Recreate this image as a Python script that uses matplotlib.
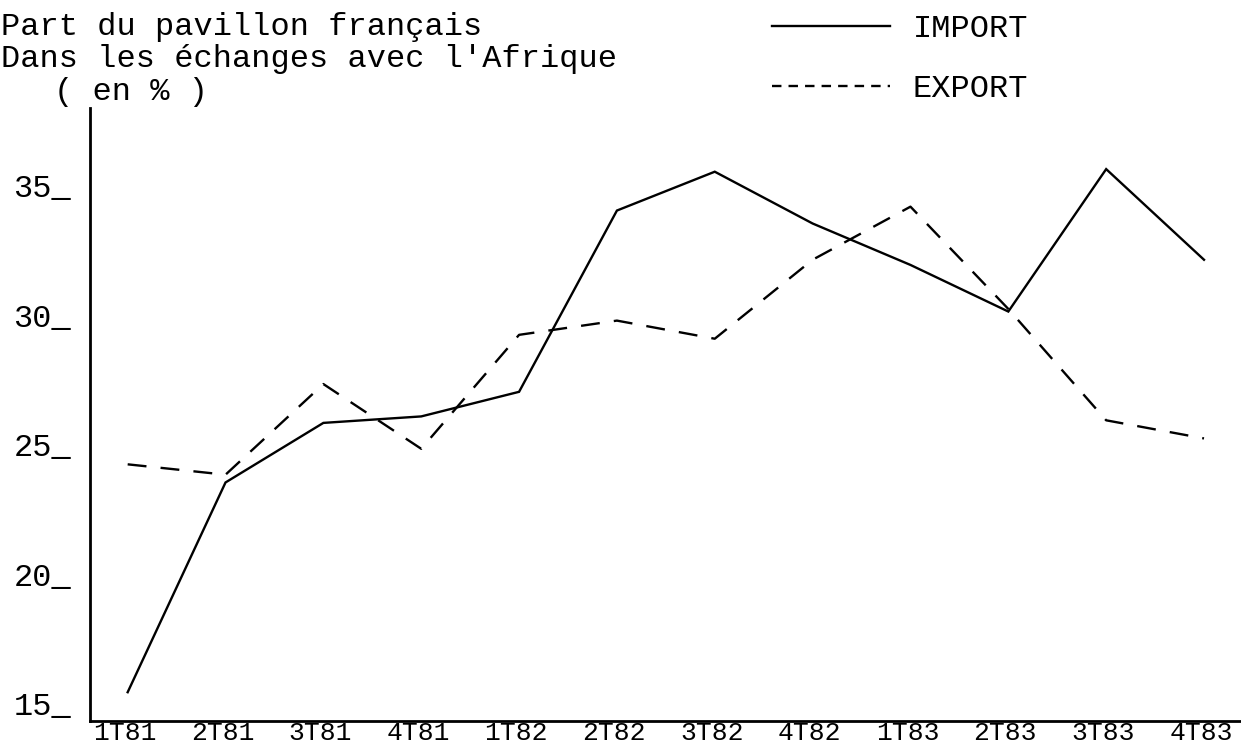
import matplotlib
matplotlib.use("Agg")
import matplotlib.pyplot as plt
import numpy as np
from matplotlib.lines import Line2D
from matplotlib.transforms import ScaledTranslation
from matplotlib.font_manager import FontProperties

# ---- data ----
quarters = ["1T81", "2T81", "3T81", "4T81", "1T82", "2T82",
            "3T82", "4T82", "1T83", "2T83", "3T83", "4T83"]
import_vals = [16.1, 24.2, 26.5, 26.75, 27.7, 34.7, 36.2, 34.2, 32.6, 30.8, 36.3, 32.8]
export_vals = [24.9, 24.5, 28.0, 25.5, 29.9, 30.45, 29.75, 32.8, 34.85, 30.9, 26.6, 25.9]
y_ticks = [15, 20, 25, 30, 35]
y_tick_labels = ["15_", "20_", "25_", "30_", "35_"]
title_lines = ["Part du pavillon français", "Dans les échanges avec l'Afrique", "( en % )"]
series_names = ["IMPORT", "EXPORT"]

W, H = 1241, 749
FONT = "Liberation Mono"
FS = 23

fig = plt.figure(figsize=(W / 100, H / 100), dpi=100)
fig.patch.set_facecolor("white")

ax_left, ax_bottom_px, ax_top_px = 90, 720.7, 108
ax = fig.add_axes([ax_left / W, (H - ax_bottom_px) / H,
                   (W - ax_left) / W, (ax_bottom_px - ax_top_px) / H])
ax.set_facecolor("white")

x = np.arange(len(quarters))
ax.plot(x, import_vals, color="black", lw=1.7, solid_joinstyle="miter")
ax.plot(x, export_vals, color="black", lw=1.7, dashes=(8, 6))

ax.set_xlim(-0.385, 11.378)
ax.set_ylim(15, 38.66)

for s in ["top", "right"]:
    ax.spines[s].set_visible(False)
for s in ["left", "bottom"]:
    ax.spines[s].set_linewidth(2.0)
    ax.spines[s].set_color("black")

ax.set_xticks(x)
ax.set_xticklabels(quarters, fontfamily=FONT, fontsize=19)
ax.set_yticks(y_ticks)
ax.set_yticklabels(y_tick_labels, fontfamily=FONT, fontsize=FS)
ax.tick_params(axis="x", length=0, pad=0.5)
ax.tick_params(axis="y", length=0, pad=13.5)

for lab in ax.get_xticklabels():
    lab.set_transform(lab.get_transform() + ScaledTranslation(-3 / 100, 0, fig.dpi_scale_trans))
for lab in ax.get_yticklabels():
    lab.set_va("baseline")
    lab.set_transform(lab.get_transform() + ScaledTranslation(0, 5.7 / 100, fig.dpi_scale_trans))

# ---- title block ----
fig.text(1 / W, 1 - 35 / H, title_lines[0], family=FONT, size=FS, va="baseline", ha="left")
fig.text(1 / W, 1 - 67 / H, title_lines[1], family=FONT, size=FS, va="baseline", ha="left")
fig.text(54 / W, 1 - 100 / H, title_lines[2], family=FONT, size=FS, va="baseline", ha="left")

# ---- legend ----
handles = [Line2D([], [], color="black", lw=1.7),
           Line2D([], [], color="black", lw=1.7, dashes=(4, 3))]
fig.legend(handles, series_names, loc="upper left",
           bbox_to_anchor=(772 / W, 1 - 14 / H), frameon=False,
           prop=FontProperties(family=FONT, size=FS),
           handlelength=3.7, handletextpad=0.7, labelspacing=0.95,
           borderpad=0, borderaxespad=0)

fig.savefig("out.png", dpi=100, facecolor="white")
